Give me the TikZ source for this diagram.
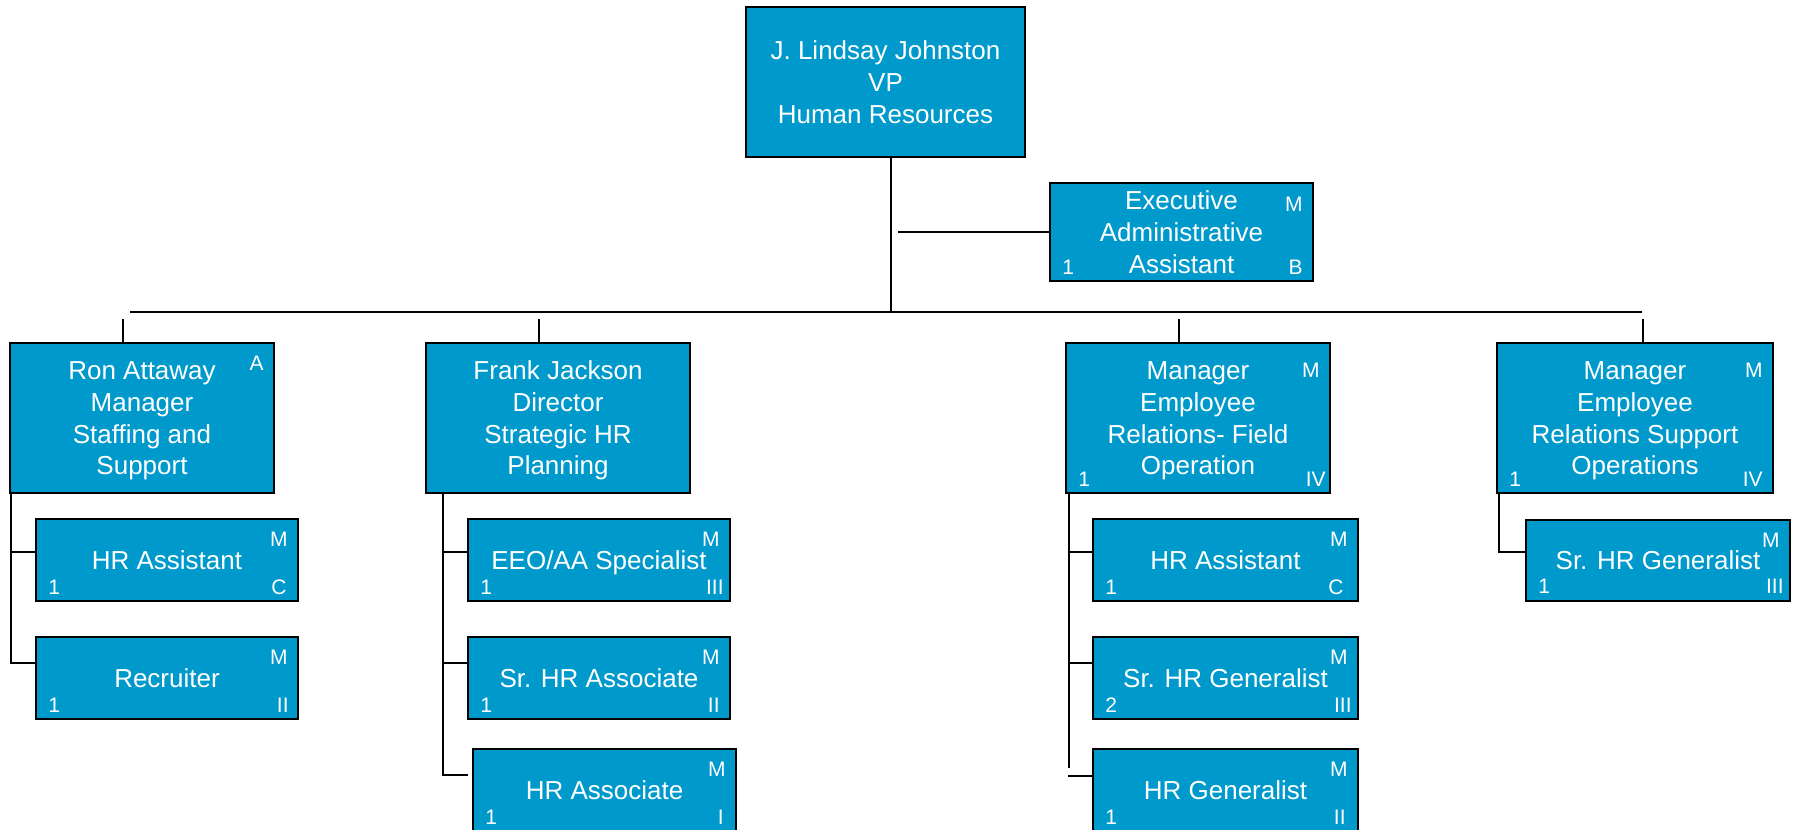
\documentclass[tikz,border=0pt]{standalone}
\usepackage{fontspec}
\setmainfont{Liberation Sans}
\definecolor{boxblue}{RGB}{0,153,204}
\newcommand\cornerTR[3]{\node[lbl,anchor=base east] (#1tr) at ([shift={(-10,#2)}]#1.north east) {#3};}
\newcommand\cornerBL[2]{\node[lbl,anchor=base west] (#1bl) at ([shift={(12,-7)}]#1.south west) {#2};}
\newcommand\cornerBR[3]{\node[lbl,anchor=base east] (#1br) at ([shift={(-#2,-7)}]#1.south east) {#3};}
\newcommand\ml[1]{\begin{tabular}[b]{@{}c@{}}#1\end{tabular}}
\begin{document}
\begin{tikzpicture}[x=0.5pt,y=-0.5pt,
  box/.style={draw=black, line width=1pt, fill=boxblue, text=white,
    font=\fontsize{13}{15.85}\selectfont, inner sep=0pt, outer sep=0pt, text depth=0pt},
  sz/.style 2 args={minimum width=#1*0.5pt, minimum height=#2*0.5pt},
  lineA/.style={text height=9.3pt},
  lineC/.style={text height=41pt},
  lineD/.style={text height=56.85pt},
  lbl/.style={text=white, font=\fontsize{10.5}{12}\selectfont, inner sep=0pt},
  wire/.style={line width=1pt, draw=black}]
\useasboundingbox (0,0) rectangle (1794,830);
\clip (0,0) rectangle (1794,830);
% top level
\node[box,sz={279}{150},lineC] (vp) at (885.5,82) {\ml{J. Lindsay Johnston\\VP\\Human Resources}};
\node[box,sz={263}{98},lineC] (exec) at (1181.5,232) {\ml{Executive\\Administrative\\Assistant}};
% managers
\node[box,sz={264}{150},lineD] (ron) at (142,418) {\ml{Ron Attaway\\Manager\\Staffing and\\Support}};
\node[box,sz={264}{150},lineD] (frank) at (558,418) {\ml{Frank Jackson\\Director\\Strategic HR\\Planning}};
\node[box,sz={264}{150},lineD] (erf) at (1198,418) {\ml{Manager\\Employee\\Relations- Field\\Operation}};
\node[box,sz={276}{150},lineD] (erso) at (1635,418) {\ml{Manager\\Employee\\Relations Support\\Operations}};
% staff
\node[box,sz={262}{82},lineA] (hraA) at (167,560) {HR Assistant};
\node[box,sz={262}{82},lineA] (rec) at (167,678) {Recruiter};
\node[box,sz={262}{82},lineA] (eeo) at (599,560) {EEO/AA Specialist};
\node[box,sz={262}{82},lineA] (sra) at (599,678) {Sr. HR Associate};
\node[box,sz={263}{82},lineA] (hras) at (604.5,790) {HR Associate};
\node[box,sz={265}{82},lineA] (hraB) at (1225.5,560) {HR Assistant};
\node[box,sz={265}{82},lineA] (srg) at (1225.5,678) {Sr. HR Generalist};
\node[box,sz={265}{82},lineA] (hrg) at (1225.5,790) {HR Generalist};
\node[box,sz={264}{81},lineA] (srgB) at (1658,560) {Sr. HR Generalist};
% corner labels
\cornerTR{exec}{28}{M}\cornerBL{exec}{1}\cornerBR{exec}{10}{B}
\cornerTR{ron}{27.5}{A}
\cornerTR{erf}{34}{M}\cornerBL{erf}{1}\cornerBR{erf}{4}{IV}
\cornerTR{erso}{34}{M}\cornerBL{erso}{1}\cornerBR{erso}{10}{IV}
\cornerTR{hraA}{27.5}{M}\cornerBL{hraA}{1}\cornerBR{hraA}{11}{C}
\cornerTR{rec}{27.5}{M}\cornerBL{rec}{1}\cornerBR{rec}{9}{II}
\cornerTR{eeo}{27.5}{M}\cornerBL{eeo}{1}\cornerBR{eeo}{6}{III}
\cornerTR{sra}{27.5}{M}\cornerBL{sra}{1}\cornerBR{sra}{10}{II}
\cornerTR{hras}{27.5}{M}\cornerBL{hras}{1}\cornerBR{hras}{12}{I}
\cornerTR{hraB}{27.5}{M}\cornerBL{hraB}{1}\cornerBR{hraB}{14}{C}
\cornerTR{srg}{27.5}{M}\cornerBL{srg}{2}\cornerBR{srg}{6}{III}
\cornerTR{hrg}{27.5}{M}\cornerBL{hrg}{1}\cornerBR{hrg}{12}{II}
\cornerTR{srgB}{27.5}{M}\cornerBL{srgB}{1}\cornerBR{srgB}{6}{III}
% connectors: top
\coordinate (vpj) at (891,311.7);
\draw[wire] (vp.south -| vpj) -- (vpj);
\coordinate (exj) at (898,232);
\draw[wire] (exj) -- (exec.west);
\coordinate (busL) at (130,311.7);
\coordinate (busR) at (1642,311.7);
\draw[wire] (busL) -- (busR);
\coordinate (ronst) at (122.7,319);
\coordinate (frst) at (539,319);
\coordinate (erfst) at (1179,319);
\coordinate (ersost) at (1642.7,319);
\draw[wire] (ronst) -- (ronst |- ron.north);
\draw[wire] (frst) -- (frst |- frank.north);
\draw[wire] (erfst) -- (erfst |- erf.north);
\draw[wire] (ersost) -- (ersost |- erso.north);
% Ron's staff
\coordinate (ronsp) at (11,663.3);
\coordinate (ronb1) at (11,551.7);
\draw[wire] (ronsp |- ron.south) -- (ronsp) -- (ronsp -| rec.west);
\draw[wire] (ronb1) -- (ronb1 -| hraA.west);
% Frank's staff
\coordinate (frsp) at (443.3,775);
\coordinate (frb1) at (443.3,551.7);
\coordinate (frb2) at (443.3,663.3);
\draw[wire] (frsp |- frank.south) -- (frsp) -- ([xshift=-2.5pt]frsp -| hras.west);
\draw[wire] (frb1) -- (frb1 -| eeo.west);
\draw[wire] (frb2) -- (frb2 -| sra.west);
% ERF staff
\coordinate (erfsp) at (1069,768);
\coordinate (erfb1) at (1069,551.7);
\coordinate (erfb2) at (1069,663.3);
\coordinate (erfb3) at (1068,775.7);
\draw[wire] (erfsp |- erf.south) -- (erfsp);
\draw[wire] (erfb1) -- (erfb1 -| hraB.west);
\draw[wire] (erfb2) -- (erfb2 -| srg.west);
\draw[wire] (erfb3) -- (erfb3 -| hrg.west);
% ERSO staff
\coordinate (ersosp) at (1499,551.7);
\draw[wire] (ersosp |- erso.south) -- (ersosp) -- (ersosp -| srgB.west);
\end{tikzpicture}
\end{document}
